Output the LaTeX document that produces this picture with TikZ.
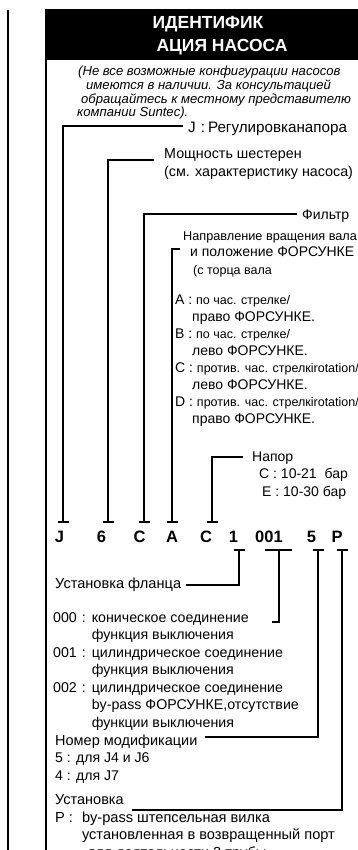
\documentclass[tikz,border=0pt]{standalone}
\usepackage{fontspec}
\setmainfont{Liberation Sans}
\newcommand\smallTxt[1]{{\fontsize{12.5}{13}\selectfont #1}}
\newcommand\sizeTo[2]{\fontsize{#1}{#2}\selectfont}
\begin{document}
\begin{tikzpicture}[x=1pt,y=-1pt,
    lead/.style={line width=1.3pt},
    frameLine/.style={line width=1.8pt},
    codeLetter/.style={font=\bfseries\fontsize{16.5}{16.5}\selectfont, inner sep=0pt, anchor=base},
    bodyText/.style={inner sep=0pt, anchor=base west},
    noteText/.style={font=\itshape\fontsize{13.1}{13.7}\selectfont, inner sep=0pt, anchor=base west},
    headText/.style={font=\bfseries\fontsize{17.5}{17.5}\selectfont, text=white, inner sep=0pt, anchor=base}]
    % Define page size
    \def\pageWidth{358}
    \def\pageHeight{850}

    \definecolor{inkColour}{HTML}{000000}

    \useasboundingbox (0,0) rectangle (\pageWidth,\pageHeight);

    % Draw frame and header
    \draw[frameLine] (8,10) -- (8,\pageHeight);
    \fill[inkColour] (46,9) rectangle (\pageWidth,60);
    \draw[frameLine] (46,9) -- (46,\pageHeight);
    \node[headText] (headOne) at (208,28.5) {ИДЕНТИФИК};
    \node[headText] (headTwo) at (222,51.5) {АЦИЯ НАСОСА};

    % Note
    \node[noteText] (note) at (77,75.5) {\begin{tabular}[t]{@{}l@{}}
        \hspace*{1pt}(Не все возможные конфигурации насосов\\
        \hspace*{9pt}имеются в наличии. За консультацией\\
        \hspace*{4pt}обращайтесь к местному представителю\\
        компании Suntec).\end{tabular}};

    % Code letters
    \foreach \name/\x/\txt in {J/59.5/J, Six/101.5/6, Filt/139.5/C, Rot/172/A, Pres/206/C,
        Flange/233.5/1, Conn/269/001, Mod/311.5/5, Mount/337/P}
        \node[codeLetter] (code\name) at (\x,542.4) {\txt};

    % Define tick coordinates
    \foreach \name/\x in {J/63, Six/108, Filt/144, Rot/172, Pres/212}
        \coordinate (tick\name) at (\x,522);
    \foreach \name/\x in {Flange/239, Conn/279, Mod/318, Mount/342}
        \coordinate (tick\name) at (\x,550);
    \coordinate (connEnd) at (272,622);
    \coordinate (mountEnd) at (132,810);

    % Draw ticks
    \foreach \name in {J,Six,Filt,Rot,Pres,Flange,Mod,Mount}
        \draw[lead] ([xshift=-5.5pt]tick\name) -- ([xshift=5.5pt]tick\name);
    \draw[lead] ([xshift=-14pt]tickConn) -- ([xshift=13pt]tickConn);

    % Labels above
    \node[bodyText] (jLabel) at (188,132.5) {\sizeTo{15.2}{17}J\hspace{5pt}:\hspace{3pt}Регулировканапора};
    \node[bodyText] (powerLabel) at (164,158.5) {\sizeTo{14.3}{18}\begin{tabular}[t]{@{}l@{}}
        Мощность шестерен\\(см. характеристику насоса)\end{tabular}};
    \node[bodyText] (filterLabel) at (302,219) {\sizeTo{14}{17}Фильтр};
    \node[bodyText] (rotLabel) at (183,240.5) {\sizeTo{12.7}{16}\begin{tabular}[t]{@{}l@{}}
        Направление вращения вала\\
        \hspace*{7pt}{\sizeTo{14}{16}и положение ФОРСУНКЕ}\\[2pt]
        \hspace*{10pt}{\sizeTo{12.5}{16}(с торца вала}\end{tabular}};
    \node[bodyText] (rotList) at (175,304) {\sizeTo{14}{17}\begin{tabular}[t]{@{}l@{}}
        A : \smallTxt{по час. стрелке/}\\
        \hspace*{17pt}право ФОРСУНКЕ.\\
        B : \smallTxt{по час. стрелке/}\\
        \hspace*{17pt}лево ФОРСУНКЕ.\\
        C : \smallTxt{против. час. стрелкirotation/}\\
        \hspace*{17pt}лево ФОРСУНКЕ.\\
        D : \smallTxt{против. час. стрелкirotation/}\\
        \hspace*{17pt}право ФОРСУНКЕ.\end{tabular}};
    \node[bodyText] (presLabel) at (252,461) {\sizeTo{14}{17.5}\begin{tabular}[t]{@{}l@{}}
        Напор\\
        \hspace*{7pt}C : 10-21\ \ бар\\
        \hspace*{10pt}E : 10-30 бар\end{tabular}};

    % Labels below
    \node[bodyText] (flangeLabel) at (55,588) {\sizeTo{14.6}{17}Установка фланца};
    \node[bodyText] (connLabel) at (53,622) {\sizeTo{14.2}{17.5}\begin{tabular}[t]{@{}l@{}l@{}}
        000\hspace{5pt}:\hspace{6pt} & коническое соединение\\
            & функция выключения\\
        001\hspace{5pt}:\hspace{6pt} & цилиндрическое соединение\\
            & функция выключения\\
        002\hspace{5pt}:\hspace{6pt} & цилиндрическое соединение\\
            & by-pass ФОРСУНКЕ,отсутствие\\
            & функции выключения\end{tabular}};
    \node[bodyText] (modLabel) at (55,745) {\sizeTo{14.5}{17}Номер модификации};
    \node[bodyText] (modList) at (55,762) {\sizeTo{14.1}{18}\begin{tabular}[t]{@{}l@{}}
        5 : для J4 и J6\\4 : для J7\end{tabular}};
    \node[bodyText] (mountLabel) at (55,804) {\sizeTo{14.5}{17}Установка};
    \node[bodyText] (mountList) at (55,822) {\sizeTo{14.6}{17.5}\begin{tabular}[t]{@{}l@{}l@{}}
        P :\hspace{9pt} & by-pass штепсельная вилка\\
            & установленная в возвращенный порт\\
            & \hspace*{5pt}для деятельности 2 трубы\end{tabular}};

    % Draw connectors
    \draw[lead] (tickJ) |- ([xshift=-5pt,yshift=6.5pt]jLabel.base west);
    \draw[lead] (tickSix) |- ([xshift=-10pt,yshift=-1.5pt]powerLabel.base west);
    \draw[lead] (tickFilt) |- ([xshift=-5pt,yshift=5pt]filterLabel.base west);
    \draw[lead] (tickRot) |- ([xshift=-3pt,yshift=-8.5pt]rotLabel.base west);
    \draw[lead] (tickPres) |- ([xshift=-9pt,yshift=4pt]presLabel.base west);
    \draw[lead] (tickFlange) |- ([xshift=5pt,yshift=3pt]flangeLabel.base east);
    \draw[lead] (tickConn) |- (connEnd);
    \draw[lead] (tickMod) |- ([xshift=7pt,yshift=8pt]modLabel.base east);
    \draw[lead] (tickMount) |- (mountEnd);

\end{tikzpicture}
\end{document}
